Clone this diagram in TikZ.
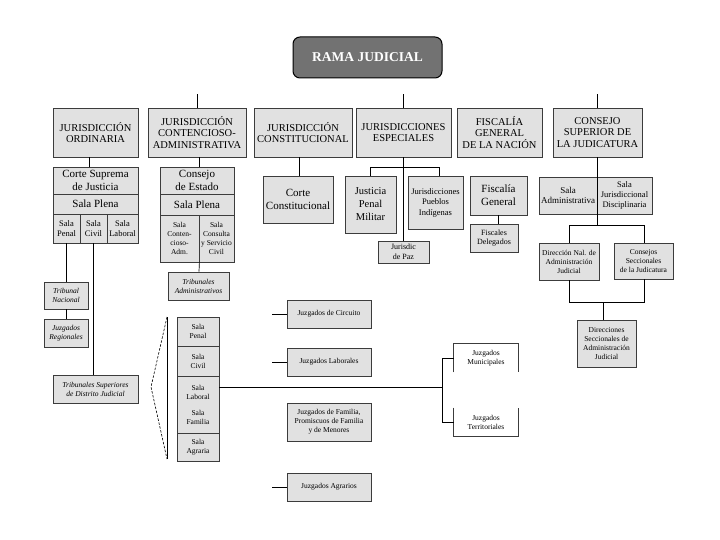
\documentclass[tikz,border=0pt]{standalone}
\usepackage{fontspec}
\setmainfont{Liberation Serif}
\definecolor{boxfill}{HTML}{E1E1E1}
\definecolor{edgec}{HTML}{3C3C3C}
\definecolor{titlefill}{HTML}{727272}
\newcommand\mkbox[7][box]{%
  \pgfmathsetmacro\mkw{#5-#3}\pgfmathsetmacro\mkh{#6-#4}%
  \node[#1, minimum width=\mkw pt, minimum height=\mkh pt] (#2) at ({(#3+#5)/2},{(#4+#6)/2}) {#7};}
\begin{document}
\begin{tikzpicture}[x=1pt,y=-1pt,
  box/.style={draw=edgec, fill=boxfill, line width=0.8pt, inner sep=0.5pt, align=center,
    font=\fontsize{10.5}{11.8}\selectfont},
  wbox/.style={box, draw=none, fill=white},
  titlebox/.style={draw=black, fill=titlefill, rounded corners=7pt, line width=1pt,
    text=white, align=center, font=\fontsize{13.5}{15}\selectfont\bfseries},
  fa/.style={font=\fontsize{11}{12.8}\selectfont},
  fb/.style={font=\fontsize{8.5}{9.8}\selectfont},
  fc/.style={font=\fontsize{8}{9.5}\selectfont},
  fd/.style={font=\fontsize{7.5}{9}\selectfont},
  fe/.style={font=\fontsize{7.5}{9}\selectfont\itshape},
  conn/.style={draw=black, line width=0.7pt}]
\useasboundingbox (0,0) rectangle (720,540);

% title
\mkbox[titlebox]{rama}{293}{37}{442}{78}{RAMA JUDICIAL}

% level 1
\mkbox{ord}{53}{108}{138}{157}{JURISDICCIÓN\\ORDINARIA}
\mkbox{cont}{148}{108}{246}{157}{JURISDICCIÓN\\CONTENCIOSO-\\ADMINISTRATIVA}
\mkbox{const}{254}{108}{352}{157}{JURISDICCIÓN\\CONSTITUCIONAL}
\mkbox{esp}{356}{108}{451}{157}{JURISDICCIONES\\ESPECIALES}
\mkbox{fisc}{457}{108}{542}{157}{FISCALÍA\\GENERAL\\DE LA NACIÓN}
\mkbox{csj}{553}{108}{642}{157}{CONSEJO\\SUPERIOR DE\\LA JUDICATURA}

\coordinate (t1) at (197,94);
\coordinate (t2) at (403,94);
\coordinate (t3) at (597,94);
\draw[conn] (cont.north) -- (t1);
\draw[conn] (esp.north -| t2) -- (t2);
\draw[conn] (csj.north -| t3) -- (t3);

% Corte Suprema
\mkbox[box,fa]{cs1}{53}{167}{138}{194}{Corte Suprema\\de Justicia}
\mkbox[box,fa]{cs2}{53}{194}{138}{214}{Sala Plena}
\mkbox[box,fb]{cs3a}{53}{214}{80}{243}{Sala\\Penal}
\mkbox[box,fb]{cs3b}{80}{214}{107}{243}{Sala\\Civil}
\mkbox[box,fb]{cs3c}{107}{214}{138}{243}{Sala\\Laboral}
\coordinate (vo) at (89,0);
\draw[conn] (ord.south -| vo) -- (cs1.north -| vo);

\mkbox[box,fe]{tn}{44}{282}{88}{309}{Tribunal\\Nacional}
\mkbox[box,fe]{jr}{44}{319}{88}{347}{Juzgados\\Regionales}
\mkbox[box,fe]{tsd}{53}{375}{138}{403}{Tribunales Superiores\\de Distrito Judicial}
\draw[conn] (cs3a.south) -- (cs3a.south |- tn.north);
\draw[conn] (tn.south) -- (jr.north);
\draw[conn] (cs3b.south) -- (cs3b.south |- tsd.north);

% Consejo de Estado
\mkbox[box,fa]{ce1}{160}{167}{234}{194}{Consejo\\de Estado}
\mkbox[box,fa]{ce2}{160}{194}{234}{215}{Sala Plena}
\mkbox[box,fd]{ce3a}{160}{215}{199}{262}{Sala\\Conten-\\cioso-\\Adm.}
\mkbox[box,fd]{ce3b}{199}{215}{234}{262}{Sala\\Consulta\\y Servicio\\Civil}
\mkbox[box,fe]{tadm}{168}{272}{229}{300}{Tribunales\\Administrativos}
\coordinate (vc) at (199,0);
\draw[conn] (cont.south -| vc) -- (ce1.north -| vc);
\draw[conn] (ce3a.south east) -- (tadm.north -| vc);

% Constitucional
\mkbox[box,fa]{cc}{263}{176}{333}{223}{Corte\\Constitucional}
\coordinate (vk) at (299,0);
\draw[conn] (const.south -| vk) -- (cc.north -| vk);

% Especiales
\mkbox[box,font=\fontsize{10.5}{13}\selectfont]{jpm}{345}{176}{396}{233}{Justicia\\Penal\\Militar}
\mkbox[box,font=\fontsize{8.5}{10.5}\selectfont]{jpi}{408}{176}{463}{229}{Jurisdicciones\\Pueblos\\Indígenas}
\mkbox[box,fc]{jdp}{378}{241}{429}{263}{Jurisdic\\de Paz}
\coordinate (ej) at (403,167);
\coordinate (ejl) at (370,167);
\coordinate (ejr) at (439,167);
\draw[conn] (esp.south -| ej) -- (jdp.north -| ej);
\draw[conn] (jpm.north -| ejl) -- (ejl) -- (ejr) -- (jpi.north -| ejr);

% Fiscalia
\mkbox[box,fa]{fg}{470}{176}{527}{215}{Fiscalía\\General}
\mkbox[box,fc]{fdl}{470}{224}{518}{252}{Fiscales\\Delegados}
\coordinate (vf) at (498,0);
\draw[conn] (fg.south -| vf) -- (fdl.north -| vf);

% Consejo Superior
\mkbox[box,font=\fontsize{9}{10.5}\selectfont]{sadm}{539}{177}{597}{214}{Sala\\Administrativa}
\mkbox[box,font=\fontsize{8.5}{10}\selectfont]{sjd}{597}{177}{652}{214}{Sala\\Jurisdiccional\\Disciplinaria}
\mkbox[box,fd]{dnal}{539}{243}{599}{280}{Dirección Nal. de\\Administración\\Judicial}
\mkbox[box,fd]{cons}{614}{243}{673}{279}{Consejos\\Seccionales\\de la Judicatura}
\mkbox[box,fd]{dsec}{577}{320}{636}{367}{Direcciones\\Seccionales de\\Administración\\Judicial}
\coordinate (cj) at (597,225);
\coordinate (cjl) at (569,225);
\coordinate (cjr) at (644,225);
\draw[conn] (csj.south -| cj) -- (cj);
\draw[conn] (dnal.north -| cjl) -- (cjl) -- (cjr) -- (cons.north -| cjr);
\coordinate (dj) at (603,302);
\coordinate (djl) at (569,302);
\coordinate (djr) at (644,302);
\draw[conn] (dnal.south -| djl) -- (djl) -- (djr) -- (cons.south -| djr);
\draw[conn] (dj) -- (dsec.north -| dj);

% Salas stack
\mkbox[box,fd]{sp}{177}{317}{219}{346}{Sala\\Penal}
\mkbox[box,fd]{sc}{177}{346}{219}{376}{Sala\\Civil}
\mkbox[box,fd]{slf}{177}{376}{219}{433}{Sala\\Laboral\\[7pt]Sala\\Familia}
\mkbox[box,fd]{sag}{177}{433}{219}{461}{Sala\\Agraria}
\coordinate (b1) at (167,317);
\coordinate (b2) at (151,387);
\coordinate (b3) at (167,459);
\draw[line width=0.6pt, dash pattern=on 2.5pt off 1.5pt] (b1) -- (b2) -- (b3);
\draw[line width=0.6pt] (b1) -- (b3);

% Juzgados
\mkbox[box,fd]{jc}{287}{300}{371}{328}{Juzgados de Circuito}
\mkbox[box,fd]{jl}{287}{348}{371}{376}{Juzgados Laborales}
\mkbox[box,fd]{jf}{287}{403}{371}{441}{Juzgados de Familia,\\Promiscuos de Familia\\y de Menores}
\mkbox[box,fd]{ja}{287}{473}{371}{501}{Juzgados Agrarios}
\coordinate (s1) at (272,314);
\coordinate (s2) at (272,362);
\coordinate (s4) at (272,487);
\draw[conn] (s1) -- (jc.west);
\draw[conn] (s2) -- (jl.west);
\draw[conn] (s4) -- (ja.west);

% Municipales / Territoriales
\mkbox[wbox,fd]{jm}{454}{344}{518}{372}{Juzgados\\Municipales}
\mkbox[wbox,fd]{jt}{454}{408}{518}{436}{Juzgados\\Territoriales}
\draw[edgec, line width=0.8pt] (jm.south west) -- (jm.north west) -- (jm.north east) -- (jm.south east);
\draw[edgec, line width=0.8pt] (jt.north west) -- (jt.south west) -- (jt.south east) -- (jt.north east);
\coordinate (jb) at (442,387);
\coordinate (jbt) at (442,358);
\coordinate (jbb) at (442,422);
\draw[conn] (slf.east |- jb) -- (jb);
\draw[conn] (jm.west) -- (jbt) -- (jbb) -- (jt.west);
\end{tikzpicture}
\end{document}
